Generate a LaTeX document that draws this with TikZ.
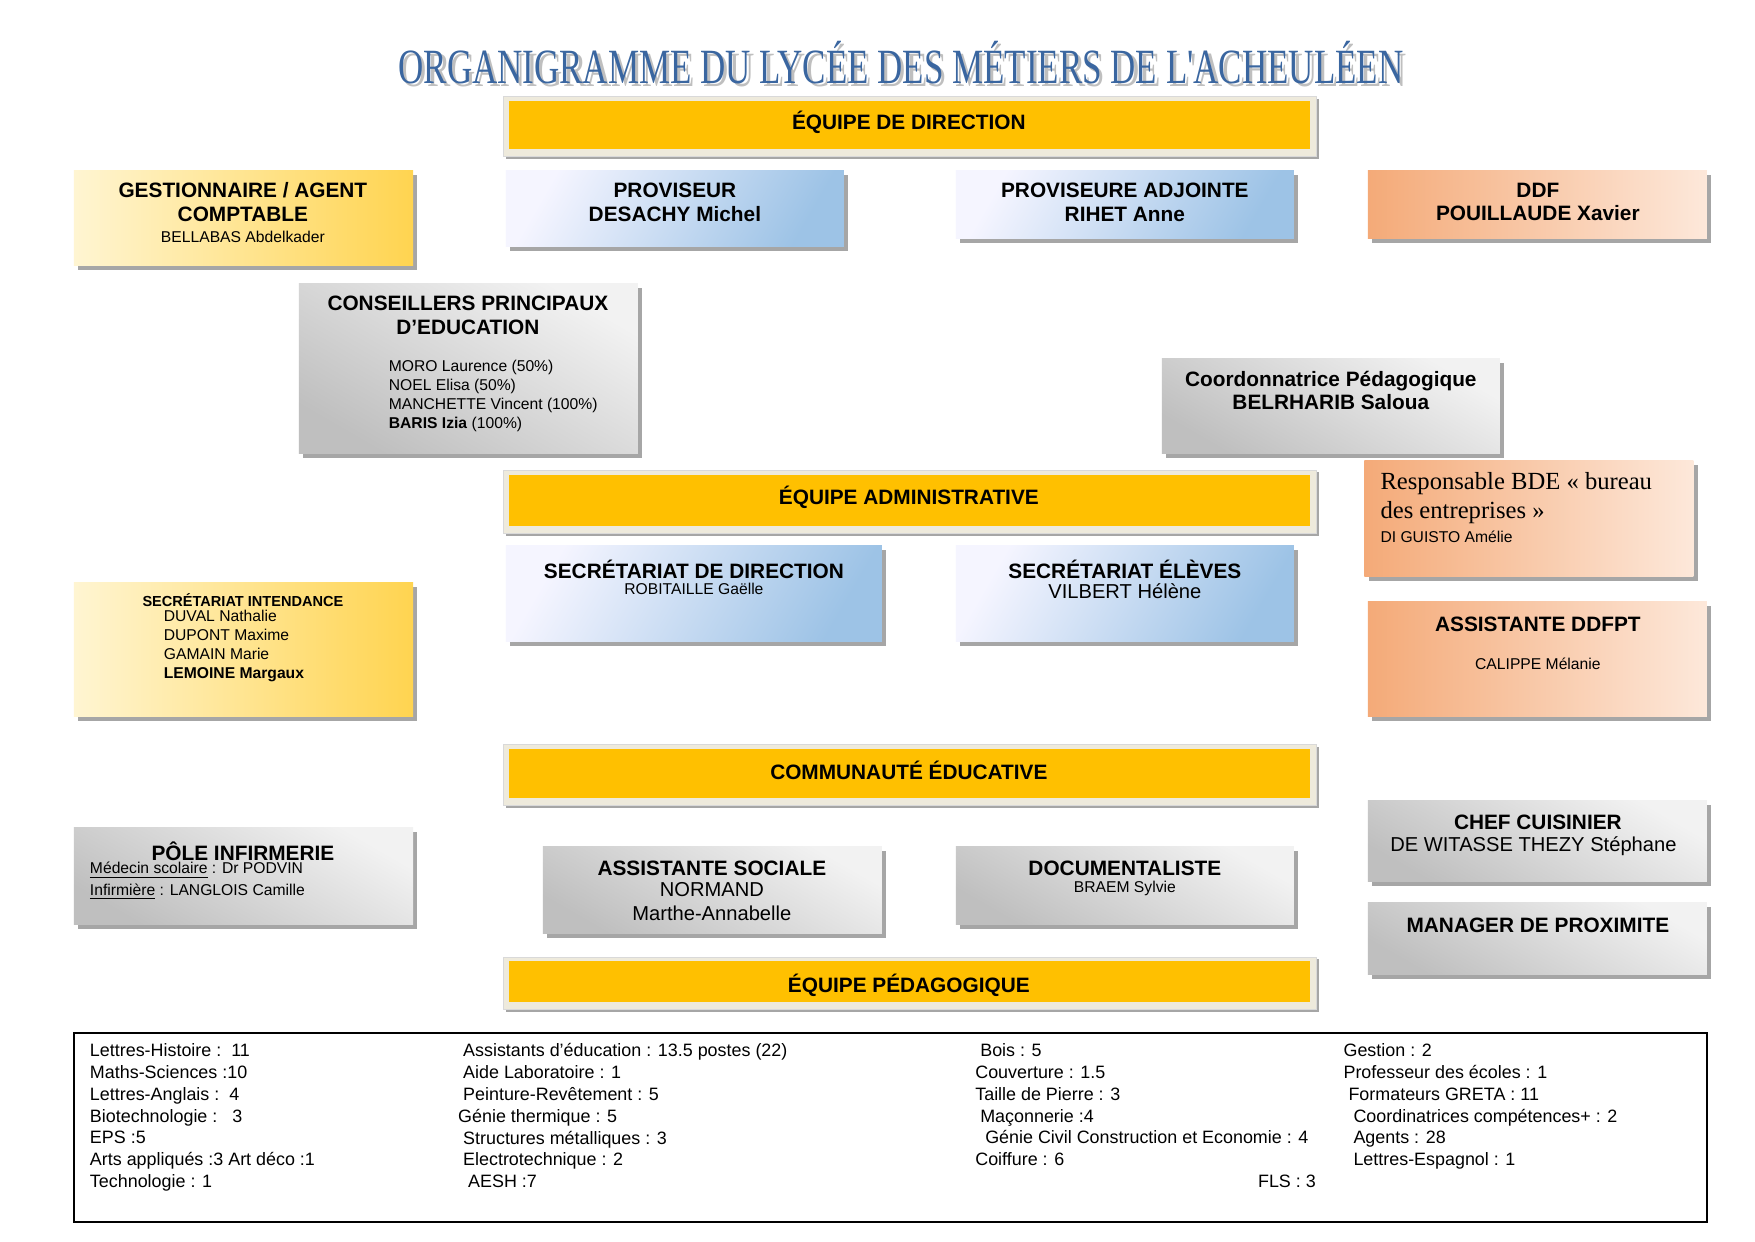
\documentclass[tikz,border=0pt]{standalone}
\usepackage{fontspec}
\setmainfont{Liberation Sans}
\newfontfamily\serf{Liberation Serif}
\usetikzlibrary{shadows}
\definecolor{orn}{HTML}{FFC000}
\definecolor{titc}{HTML}{3A66A0}
\tikzset{
 base/.style={inner sep=0pt, draw=none, drop shadow={shadow xshift=2pt, shadow yshift=-2pt, fill=black!35, opacity=1}},
 blu/.style={base, left color=blue!4!white, right color={rgb,255:red,157;green,195;blue,230}, shading angle=60},
 ylw/.style={base, left color={rgb,255:red,255;green,245;blue,210}, right color={rgb,255:red,255;green,212;blue,80}},
 org/.style={base, left color={rgb,255:red,244;green,170;blue,120}, right color={rgb,255:red,253;green,232;blue,218}},
 gry/.style={base, top color=black!5, bottom color=black!25, shading angle=-30},
 bar/.style={inner sep=0pt, fill={rgb,255:red,238;green,234;blue,220}, draw=black!15, drop shadow={shadow xshift=1pt, shadow yshift=-1pt, fill=black!35, opacity=1}},
 barin/.style={inner sep=0pt, fill=orn},
 hd/.style={font=\fontsize{9.3}{10.6}\selectfont\bfseries, align=center, anchor=north, inner sep=0pt, yshift=-1.5pt},
 sm/.style={font=\fontsize{7}{8.5}\selectfont, align=left},
 md/.style={font=\fontsize{9}{10.5}\selectfont, align=center, anchor=north},
 bt/.style={font=\fontsize{8}{9.75}\selectfont, anchor=north west, inner sep=0pt, align=left},
}
\newcommand\bx[6]{\node[#6, minimum width=\dimexpr(#4pt-#2pt)/2\relax, minimum height=\dimexpr(#5pt-#3pt)/2\relax] (#1) at ({(#2+#4)/2},{(#3+#5)/2}) {};}
\newcommand\br[5]{\bx{#1}{#2}{#3}{#4}{#5}{bar}\bx{#1i}{\the\numexpr#2+5\relax}{\the\numexpr#3+4\relax}{\the\numexpr#4-6\relax}{\the\numexpr#5-7\relax}{barin}}
\begin{document}
\begin{tikzpicture}[x=0.5pt,y=-0.5pt]
\useasboundingbox[fill=white] (0,0) rectangle (1568,1109);
% title
\node[font=\serf\fontsize{22}{24}\selectfont, text=black!25] (tsh) at (808,59) {\scalebox{0.71}[1]{ORGANIGRAMME DU LYCÉE DES MÉTIERS DE L'ACHEULÉEN}};
\node[font=\serf\fontsize{22}{24}\selectfont, text=titc] (tit) at (805,56) {\scalebox{0.71}[1]{ORGANIGRAMME DU LYCÉE DES MÉTIERS DE L'ACHEULÉEN}};
% bars
\br{b1}{450}{86}{1176}{140}
\node[hd, anchor=center, yshift=0pt] (b1t) at (812,106) {ÉQUIPE DE DIRECTION};
\br{b2}{450}{420}{1176}{477}
\node[hd, anchor=center, yshift=0pt] (b2t) at (812,441) {ÉQUIPE ADMINISTRATIVE};
\br{b3}{450}{665}{1176}{720}
\node[hd, anchor=center, yshift=0pt] (b3t) at (812,685) {COMMUNAUTÉ ÉDUCATIVE};
\br{b4}{450}{855}{1176}{902}
\node[hd, anchor=center, yshift=0pt] (b4t) at (812,877) {ÉQUIPE PÉDAGOGIQUE};
% row 1
\bx{g}{66}{152}{369}{237}{ylw}
\node[hd] (gt) at (217,160) {GESTIONNAIRE / AGENT\\COMPTABLE};
\node[sm, anchor=center] (gs) at (217,212) {BELLABAS Abdelkader};
\bx{p}{452}{152}{754}{220}{blu}
\node[hd] (pt) at (603,160) {PROVISEUR\\DESACHY Michel};
\bx{pa}{854}{152}{1156}{213}{blu}
\node[hd] (pat) at (1005,160) {PROVISEURE ADJOINTE\\RIHET Anne};
\bx{d}{1222}{152}{1525}{213}{org}
\node[hd] (dt) at (1374,160) {DDF\\POUILLAUDE Xavier};
% CPE
\bx{c}{267}{253}{570}{405}{gry}
\node[hd] (ct) at (418,261) {CONSEILLERS PRINCIPAUX\\D’EDUCATION};
\node[sm, anchor=north west, inner sep=0pt] (cs) at (347,321) {MORO Laurence (50\%)\\NOEL Elisa (50\%)\\MANCHETTE Vincent (100\%)\\\textbf{BARIS Izia} (100\%)};
\bx{cp}{1038}{320}{1340}{405}{gry}
\node[hd] (cpt) at (1189,328) {Coordonnatrice Pédagogique\\BELRHARIB Saloua};
% BDE
\bx{bde}{1219}{411}{1513}{515}{org}
\node[font=\serf\fontsize{11}{13}\selectfont, anchor=north west, align=left, inner sep=0pt] (bdet) at (1233,422) {Responsable BDE « bureau\\des entreprises »};
\node[sm, anchor=west, inner sep=0pt] (bdes) at (1233,480) {DI GUISTO Amélie};
% secretariats
\bx{sd}{452}{487}{788}{573}{blu}
\node[hd] (sdt) at (620,497) {SECRÉTARIAT DE DIRECTION};
\node[sm, anchor=center] (sds) at (620,526) {ROBITAILLE Gaëlle};
\bx{se}{854}{487}{1156}{573}{blu}
\node[hd] (set) at (1005,497) {SECRÉTARIAT ÉLÈVES};
\node[md, anchor=center] (ses) at (1005,528) {VILBERT Hélène};
\bx{si}{66}{520}{369}{640}{ylw}
\node[font=\fontsize{6.5}{8}\selectfont\bfseries, anchor=center] (sit) at (217,536) {SECRÉTARIAT INTENDANCE};
\node[sm, anchor=north west, inner sep=0pt] (sis) at (146,545) {DUVAL Nathalie\\DUPONT Maxime\\GAMAIN Marie\\\textbf{LEMOINE Margaux}};
\bx{ad}{1222}{537}{1525}{640}{org}
\node[hd] (adt) at (1374,548) {ASSISTANTE DDFPT};
\node[sm, anchor=center] (ads) at (1374,593) {CALIPPE Mélanie};
% communaute
\bx{cc}{1222}{715}{1525}{788}{gry}
\node[hd] (cct) at (1374,725) {CHEF CUISINIER};
\node[md, anchor=center] (ccs) at (1370,756) {DE WITASSE THEZY Stéphane};
\bx{pi}{66}{739}{369}{826}{gry}
\node[hd] (pit) at (217,749) {PÔLE INFIRMERIE};
\node[sm, anchor=north west, inner sep=0pt] (pis) at (80,770) {\underline{Médecin scolaire} : Dr PODVIN\\[1pt]\underline{Infirmière} : LANGLOIS Camille};
\bx{as}{485}{756}{788}{834}{gry}
\node[hd] (ast) at (636,766) {ASSISTANTE SOCIALE};
\node[md, anchor=north, inner sep=0pt] (ass) at (636,788) {NORMAND\\Marthe-Annabelle};
\bx{doc}{854}{756}{1156}{826}{gry}
\node[hd] (doct) at (1005,766) {DOCUMENTALISTE};
\node[sm, anchor=center] (docs) at (1005,794) {BRAEM Sylvie};
\bx{mp}{1222}{806}{1525}{871}{gry}
\node[hd] (mpt) at (1374,817) {MANAGER DE PROXIMITE};
% bottom box
\node[draw=black, line width=0.7pt, inner sep=0pt, minimum width=729.5pt, minimum height=84.5pt] (bb) at (795.5,1007.5) {};
\node[bt] (c1) at (80,932) {Lettres-Histoire :\ \ 11\\Maths-Sciences :10\\Lettres-Anglais :\ \ 4\\Biotechnologie :\ \ \ 3\\EPS :5\\Arts appliqués :3 Art déco :1\\Technologie : 1};
\node[bt] (c2) at (409,932) {\ Assistants d’éducation : 13.5 postes (22)\\\ Aide Laboratoire : 1\\\ Peinture-Revêtement : 5\\Génie thermique : 5\\\ Structures métalliques : 3\\\ Electrotechnique : 2\\\ \ AESH :7};
\node[bt] (c3) at (871,932) {\ Bois : 5\\Couverture : 1.5\\Taille de Pierre : 3\\\ Maçonnerie :4\\\ \ Génie Civil Construction et Economie : 4\\Coiffure : 6};
\node[bt, anchor=north east] (fls) at (1176,1049) {FLS : 3};
\node[bt] (c4) at (1200,932) {Gestion : 2\\Professeur des écoles : 1\\\ Formateurs GRETA : 11\\\ \ Coordinatrices compétences+ : 2\\\ \ Agents : 28\\\ \ Lettres-Espagnol : 1};
\end{tikzpicture}
\end{document}
